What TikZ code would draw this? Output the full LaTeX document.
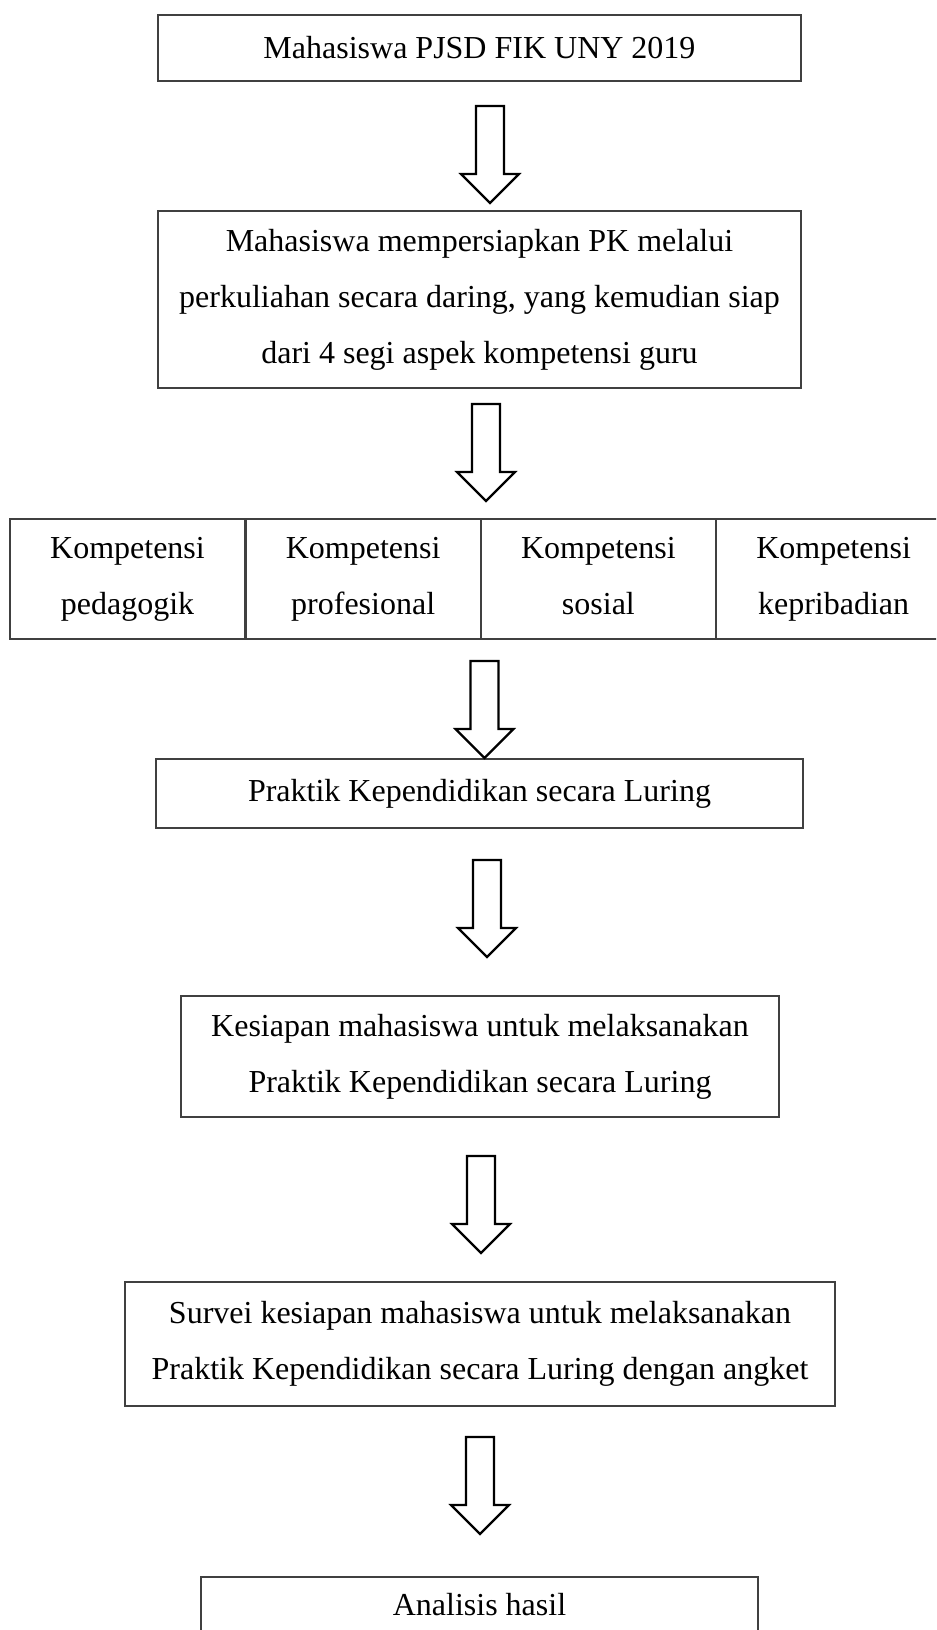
\documentclass[tikz,border=0pt]{standalone}
\usepackage{fontspec}
\setmainfont{Liberation Serif}
\usetikzlibrary{calc}

\newcommand{\teks}{\fontsize{24}{42}\selectfont}
\tikzset{
	kotak/.style={draw=black!75, line width=0.9pt, inner sep=0pt, align=center, font=\teks},
	ukuran/.style 2 args={minimum width=#1*0.75pt, minimum height=#2*0.75pt},
	panahblok/.style={draw=black, line width=1.7pt, fill=white, line join=miter},
}
% panah blok ke bawah, #1 = titik tengah atas batang
\newcommand{\panah}[1]{%
	\draw[panahblok] ($(#1)+(-14,0)$) -- ++(0,68) -- ++(-15,0) -- ($(#1)+(0,97)$)
		-- ++(29,-29) -- ++(-15,0) -- ($(#1)+(14,0)$) -- cycle;}

\begin{document}
\begin{tikzpicture}[x=0.75pt, y=-0.75pt]
	\useasboundingbox (0,0) rectangle (936,1630);
	\clip (0,0) rectangle (936,1630);
	
	% Kotak-kotak alur
	\node[kotak, ukuran={643}{66}] (mhs) at (479.5,48) {Mahasiswa PJSD FIK UNY 2019};
	\node[kotak, ukuran={643}{177}] (siap) at (479.5,299.5)
		{Mahasiswa mempersiapkan PK melalui\\perkuliahan secara daring, yang kemudian siap\\dari 4 segi aspek kompetensi guru};
	
	% Empat aspek kompetensi
	\node[kotak, ukuran={235}{120}] (k1) at (127.5,579) {Kompetensi\\pedagogik};
	\node[kotak, ukuran={234}{120}, anchor=west] (k2) at (k1.east) {Kompetensi\\profesional};
	\node[kotak, ukuran={234}{120}, anchor=west] (k3) at (k2.east) {Kompetensi\\sosial\vphantom{p}};
	\node[kotak, ukuran={234}{120}, anchor=west] (k4) at (k3.east) {Kompetensi\\kepribadian};
	\draw[kotak] (k4.north east) -- ++(30,0) (k4.south east) -- ++(30,0);
	
	\node[kotak, ukuran={647}{69}] (pkl) at (479.5,793.5) {Praktik Kependidikan secara Luring};
	\node[kotak, ukuran={598}{121}] (kesiapan) at (480,1056.5)
		{Kesiapan mahasiswa untuk melaksanakan\\Praktik Kependidikan secara Luring};
	\node[kotak, ukuran={710}{124}] (survei) at (480,1344)
		{Survei kesiapan mahasiswa untuk melaksanakan\\Praktik Kependidikan secara Luring dengan angket};
	\node[kotak, ukuran={557}{56}] (hasil) at (479.5,1605) {Analisis hasil};
	
	% Titik atas panah
	\coordinate (p1) at (490,106);
	\coordinate (p2) at (486,404);
	\coordinate (p3) at (484.5,661);
	\coordinate (p4) at (487,860);
	\coordinate (p5) at (481,1156);
	\coordinate (p6) at (480,1437);
	
	\panah{p1}
	\panah{p2}
	\panah{p3}
	\panah{p4}
	\panah{p5}
	\panah{p6}
\end{tikzpicture}
\end{document}
